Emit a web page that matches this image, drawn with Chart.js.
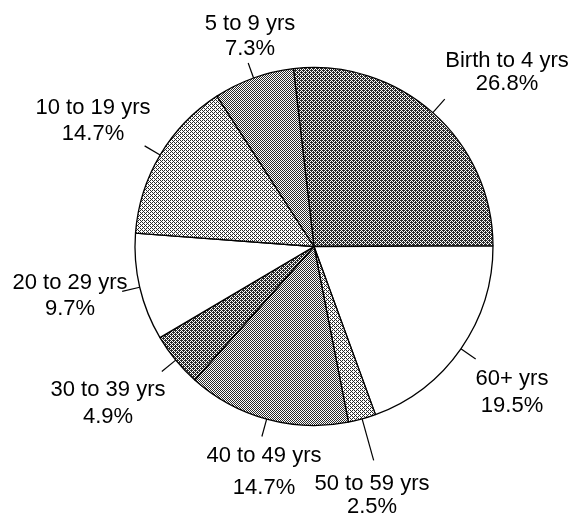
<!DOCTYPE html>
<html>
<head>
<meta charset="utf-8">
<script src="https://cdn.jsdelivr.net/npm/chart.js@4"></script>
<style>
  html, body { margin: 0; padding: 0; background: #fff; }
  #wrap { width: 573px; height: 513px; }
</style>
</head>
<body>
<div id="wrap"><canvas id="agePie"></canvas></div>
<script>
// slices, clockwise from just left of the top
const ageGroups = ['Birth to 4 yrs', '60+ yrs', '50 to 59 yrs', '40 to 49 yrs',
                   '30 to 39 yrs', '20 to 29 yrs', '10 to 19 yrs', '5 to 9 yrs'];
const sharePct = [26.8, 19.5, 2.5, 14.7, 4.9, 9.7, 14.7, 7.3];

// share of dark pixels in each slice's dither (0 = white)
const ditherLevel = [0.62, 0, 0.38, 0.5, 0.62, 0, 0.38, 0.5];

// label placement relative to pie centre: [x, y line 1, y line 2]
const labelSpots = [
    [193, -186, -163], [198, 132, 159], [58, 237, 260], [-50, 209, 241],
    [-206, 143, 170], [-244, 36, 62], [-221, -139, -113], [-64, -223, -198]
];
// length of each leader tick
const leaderLen = [18, 18, 43, 18, 18, 18, 18, 16];

// 4x4 ordered dither tile
function ditherPattern(level) {
    const bayer = [0, 8, 2, 10, 12, 4, 14, 6, 3, 11, 1, 9, 15, 7, 13, 5];
    const c = document.createElement('canvas');
    c.width = 4; c.height = 4;
    const g = c.getContext('2d');
    g.fillStyle = '#fff';
    g.fillRect(0, 0, 4, 4);
    g.fillStyle = '#2a2a2a';
    for (let i = 0; i < 16; i++) {
        if ((bayer[i] + 0.5) / 16 < level) g.fillRect(i % 4, Math.floor(i / 4), 1, 1);
    }
    return g.createPattern(c, 'repeat');
}

const pieLabels = {
    id: 'pieLabels',
    afterDatasetsDraw(chart) {
        const ctx = chart.ctx;
        const arcs = chart.getDatasetMeta(0).data;
        ctx.save();
        ctx.strokeStyle = '#000';
        ctx.lineWidth = 1.2;
        ctx.fillStyle = '#000';
        ctx.font = '22px "Liberation Sans", Arial, sans-serif';
        ctx.textAlign = 'center';
        ctx.textBaseline = 'middle';
        arcs.forEach((arc, i) => {
            const p = arc.getProps(['x', 'y', 'startAngle', 'endAngle', 'outerRadius'], true);
            const mid = (p.startAngle + p.endAngle) / 2;
            const r0 = p.outerRadius;
            const r1 = r0 + leaderLen[i];
            ctx.beginPath();
            ctx.moveTo(p.x + Math.cos(mid) * r0, p.y + Math.sin(mid) * r0);
            ctx.lineTo(p.x + Math.cos(mid) * r1, p.y + Math.sin(mid) * r1);
            ctx.stroke();
            const s = labelSpots[i];
            ctx.fillText(ageGroups[i], p.x + s[0], p.y + s[1]);
            ctx.fillText(sharePct[i].toFixed(1) + '%', p.x + s[0], p.y + s[2]);
        });
        ctx.restore();
    }
};

new Chart(document.getElementById('agePie'), {
    type: 'pie',
    data: {
        labels: ageGroups,
        datasets: [{
            data: sharePct,
            backgroundColor: ditherLevel.map(ditherPattern),
            borderColor: '#000',
            borderWidth: 1.3
        }]
    },
    options: {
        responsive: true,
        maintainAspectRatio: false,
        animation: false,
        rotation: -6.6,
        radius: 179,
        layout: { padding: { left: 60, right: 5, top: 5, bottom: 25 } },
        plugins: {
            legend: { display: false },
            tooltip: { enabled: false }
        }
    },
    plugins: [pieLabels]
});
</script>
</body>
</html>
